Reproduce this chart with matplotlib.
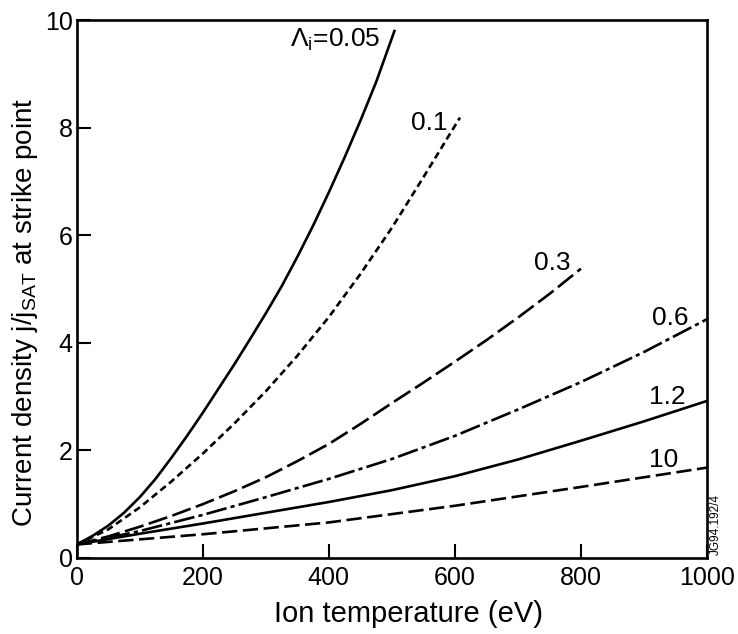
import numpy as np
import matplotlib
matplotlib.use('Agg')
import matplotlib.pyplot as plt

#fonts
plt.rcParams['font.family'] = ['Liberation Sans', 'DejaVu Sans']
plt.rcParams['mathtext.fontset'] = 'custom'
plt.rcParams['mathtext.rm'] = 'Liberation Sans'
plt.rcParams['mathtext.it'] = 'Liberation Sans:italic'
plt.rcParams['lines.scale_dashes'] = False

#data (ion temperature eV, j/jSAT)
T_005 = [0, 25, 50, 75, 100, 125, 150, 175, 200, 225, 250, 275, 300,
         325, 350, 375, 400, 425, 450, 475, 504]
j_005 = [0.25, 0.41, 0.6, 0.84, 1.13, 1.47, 1.86, 2.27, 2.7, 3.15, 3.6, 4.07, 4.55,
         5.05, 5.6, 6.18, 6.8, 7.45, 8.13, 8.85, 9.8]

T_01 = [0, 50, 100, 150, 200, 250, 300, 350, 400, 450, 500, 550, 608]
j_01 = [0.25, 0.53, 0.94, 1.42, 1.94, 2.5, 3.1, 3.76, 4.48, 5.28, 6.14, 7.08, 8.19]

T_03 = [0, 50, 100, 150, 200, 250, 300, 350, 400, 450, 500, 550, 600, 650, 700, 750, 800]
j_03 = [0.25, 0.4, 0.58, 0.78, 1.0, 1.24, 1.5, 1.8, 2.12, 2.49, 2.88, 3.26, 3.65,
        4.05, 4.47, 4.91, 5.38]

T_06 = [0, 100, 200, 300, 400, 500, 600, 700, 800, 900, 1000]
j_06 = [0.25, 0.5, 0.8, 1.13, 1.47, 1.84, 2.27, 2.76, 3.27, 3.83, 4.44]

T_12 = [0, 100, 200, 300, 400, 500, 600, 700, 800, 900, 1000]
j_12 = [0.25, 0.45, 0.64, 0.84, 1.04, 1.26, 1.52, 1.83, 2.18, 2.54, 2.92]

T_10 = [0, 200, 400, 600, 800, 900, 1000]
j_10 = [0.25, 0.44, 0.66, 0.97, 1.32, 1.5, 1.68]

labels = ['Λ$_{\\rm i}$=0.05', '0.1', '0.3', '0.6', '1.2', '10']
label_pos = [(482, 9.63), (589, 8.09), (784, 5.48), (970, 4.46), (966, 2.99), (955, 1.82)]

xticks = [0, 200, 400, 600, 800, 1000]
yticks = [0, 2, 4, 6, 8, 10]

fig = plt.figure(figsize=(7.38, 6.34), dpi=100)
ax = fig.add_axes([0.104, 0.120, 0.854, 0.848])

lw = 1.9
ax.plot(T_005, j_005, color='black', lw=lw, ls='-')
ax.plot(T_01, j_01, color='black', lw=lw, ls=(0, (5, 3)))
ax.plot(T_03, j_03, color='black', lw=lw, ls=(0, (14, 4)))
ax.plot(T_06, j_06, color='black', lw=lw, ls=(0, (15, 3, 3, 3)))
ax.plot(T_12, j_12, color='black', lw=lw, ls='-')
ax.plot(T_10, j_10, color='black', lw=lw, ls=(0, (11, 4)))

for txt, (x, y) in zip(labels, label_pos):
    ax.text(x, y, txt, ha='right', va='center', fontsize=19)

ax.set_xlim(0, 1000)
ax.set_ylim(0, 10)
ax.set_xticks(xticks)
ax.set_yticks(yticks)
ax.tick_params(direction='in', length=10, width=1.5, labelsize=18, pad=3)
ax.tick_params(axis='x', pad=6)
for s in ax.spines.values():
    s.set_linewidth(1.9)

ax.set_xlabel('Ion temperature (eV)', fontsize=21)
ax.set_ylabel('Current density j/j$_{\\rm SAT}$ at strike point', fontsize=20)
ax.xaxis.set_label_coords(0.527, -0.078)
ax.yaxis.set_label_coords(-0.058, 0.457)

fig.text(0.970, 0.125, 'JG94.192/4', rotation=90, fontsize=8.5, ha='center', va='bottom')

fig.savefig('out.png', dpi=100)
